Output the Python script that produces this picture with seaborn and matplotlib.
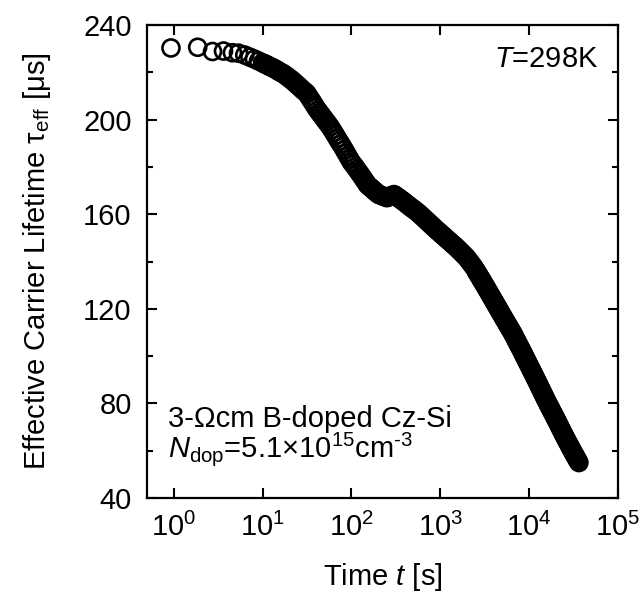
import numpy as np
import pandas as pd
import matplotlib
matplotlib.use("Agg")
import matplotlib.pyplot as plt
import matplotlib.ticker as mticker
import seaborn as sns

# ---- data ----
t_early = [0.93, 1.86, 2.73, 3.63, 4.57, 5.35, 6.3, 7.2, 8.1, 9.0]
tau_early = [230.3, 230.6, 228.8, 229.0, 228.3, 228.1, 227.3, 226.4, 225.6, 224.8]

t_dec1 = [10.0, 10.5, 11.0, 11.5, 12.0, 12.6, 13.2, 13.8, 14.5, 15.1, 15.8, 16.6, 17.4, 18.2, 19.1,
          20.0, 20.9, 21.9, 22.9, 24.0, 25.1, 26.3, 27.5, 28.8, 30.2, 31.6, 33.1, 34.7, 36.3, 38.0,
          39.8, 41.7, 43.7, 45.7, 47.9, 50.1, 52.5, 55.0, 57.5, 60.3, 63.1, 66.1, 69.2, 72.4, 75.9,
          79.4, 83.2, 87.1, 91.2, 95.5]
tau_dec1 = [224.0, 223.6, 223.3, 222.9, 222.5, 222.2, 221.8, 221.4, 221.0, 220.5, 220.1, 219.7, 219.2,
            218.7, 218.1, 217.5, 217.0, 216.4, 215.7, 215.0, 214.4, 213.7, 213.0, 212.3, 211.7, 211.0,
            209.8, 208.6, 207.5, 206.3, 205.1, 204.0, 203.0, 202.0, 201.0, 200.0, 199.0, 198.0, 197.0,
            195.8, 194.6, 193.4, 192.1, 190.9, 189.7, 188.5, 187.2, 185.9, 184.6, 183.3]

t_dec2 = [100, 105, 110, 115, 120, 126, 132, 138, 145, 151, 158, 166, 174, 182, 191, 200, 209, 219,
          229, 240, 251, 263, 275, 288, 302, 316, 331, 347, 363, 380, 398, 417, 437, 457, 479, 501,
          525, 550, 575, 603, 631, 661, 692, 724, 759, 794, 832, 871, 912, 955]
tau_dec2 = [182.0, 181.0, 180.0, 179.0, 178.0, 176.9, 175.8, 174.7, 173.6, 172.5, 171.8, 171.2, 170.5,
            169.8, 169.2, 168.5, 168.2, 167.9, 167.6, 167.3, 167.0, 167.3, 167.7, 168.0, 168.3, 167.8,
            167.2, 166.7, 166.1, 165.6, 165.0, 164.4, 163.8, 163.2, 162.6, 162.1, 161.5, 160.9, 160.3,
            159.6, 158.9, 158.2, 157.5, 156.8, 156.1, 155.4, 154.7, 154.0, 153.3, 152.7]

t_dec3a = [1000, 1047, 1096, 1148, 1202, 1259, 1318, 1380, 1445, 1514, 1585, 1660, 1738, 1820, 1905,
           1995, 2089, 2188, 2291, 2399, 2512]
tau_dec3a = [152.0, 151.3, 150.7, 150.0, 149.3, 148.7, 148.0, 147.3, 146.7, 146.0, 145.3, 144.5, 143.8,
             143.0, 142.3, 141.5, 140.5, 139.5, 138.5, 137.5, 136.3]

t_dec3b = [2570, 2630, 2692, 2754, 2818, 2884, 2951, 3020, 3090, 3162, 3236, 3311, 3388, 3467, 3548,
           3631, 3715, 3802, 3890, 3981, 4074, 4169, 4266, 4365, 4467, 4571, 4677, 4786, 4898, 5012,
           5129, 5248, 5370, 5495, 5623, 5754, 5888, 6026, 6166, 6310, 6457, 6607, 6761, 6918, 7079,
           7244, 7413, 7586, 7762, 7943, 8128, 8318, 8511, 8710, 8913, 9120, 9333, 9550, 9772]
tau_dec3b = [135.6, 135.0, 134.4, 133.8, 133.1, 132.5, 131.9, 131.3, 130.6, 130.0, 129.4, 128.7, 128.1,
             127.4, 126.8, 126.1, 125.5, 124.8, 124.2, 123.5, 122.9, 122.2, 121.6, 120.9, 120.3, 119.6,
             119.0, 118.3, 117.7, 117.0, 116.4, 115.7, 115.1, 114.5, 113.8, 113.2, 112.5, 111.9, 111.3,
             110.6, 110.0, 109.3, 108.6, 107.8, 107.1, 106.4, 105.7, 104.9, 104.2, 103.5, 102.8, 102.0,
             101.3, 100.5, 99.8, 99.0, 98.3, 97.5, 96.8]

t_dec4 = [10000, 10233, 10471, 10715, 10965, 11220, 11482, 11749, 12023, 12303, 12589, 12882, 13183,
          13490, 13804, 14125, 14454, 14791, 15136, 15488, 15849, 16218, 16596, 16982, 17378, 17783,
          18197, 18621, 19055, 19498, 19953, 20417, 20893, 21380, 21878, 22387, 22909, 23442, 23988,
          24547, 25119, 25704, 26303, 26915, 27542, 28184, 28840, 29512, 30200, 30903, 31623, 32359,
          33113, 33884, 34674, 35481, 36308]
tau_dec4 = [96.0, 95.3, 94.5, 93.8, 93.0, 92.3, 91.5, 90.8, 90.0, 89.3, 88.5, 87.7, 86.9, 86.2, 85.4,
            84.6, 83.8, 83.1, 82.3, 81.5, 80.8, 80.0, 79.3, 78.6, 77.9, 77.1, 76.4, 75.7, 75.0, 74.2,
            73.5, 72.8, 72.0, 71.3, 70.5, 69.8, 69.0, 68.3, 67.5, 66.8, 66.0, 65.3, 64.6, 63.9, 63.2,
            62.5, 61.8, 61.1, 60.4, 59.7, 59.0, 58.3, 57.7, 57.0, 56.3, 55.7, 55.0]

y_ticks = [40, 80, 120, 160, 200, 240]
x_ticks = [1e0, 1e1, 1e2, 1e3, 1e4, 1e5]

df = pd.DataFrame({
    "t": t_early + t_dec1 + t_dec2 + t_dec3a + t_dec3b + t_dec4,
    "tau": tau_early + tau_dec1 + tau_dec2 + tau_dec3a + tau_dec3b + tau_dec4,
})

# ---- style ----
sns.set_style("ticks", {"text.color": "black", "axes.labelcolor": "black",
                        "xtick.color": "black", "ytick.color": "black",
                        "axes.edgecolor": "black"})
plt.rcParams["font.family"] = ["Liberation Sans", "DejaVu Sans"]
plt.rcParams["mathtext.fontset"] = "custom"
plt.rcParams["mathtext.rm"] = "Liberation Sans"
plt.rcParams["mathtext.it"] = "Liberation Sans:italic"
plt.rcParams["mathtext.bf"] = "Liberation Sans:bold"
plt.rcParams["text.color"] = "black"

FS = 21

fig = plt.figure(figsize=(6.44, 5.96), dpi=100)
ax = fig.add_axes([0.2283, 0.1644, 0.7313, 0.7936])

sns.scatterplot(data=df, x="t", y="tau", ax=ax, marker="o", s=150, linewidth=1.9,
                legend=False)
for coll in ax.collections:
    coll.set_facecolor("none")
    coll.set_edgecolor("black")
    coll.set_linewidth(1.9)

ax.set_xscale("log")
ax.set_xlim(0.5, 1e5)
ax.set_ylim(40, 240)
ax.set_xticks(x_ticks)
ax.xaxis.set_major_formatter(mticker.LogFormatterSciNotation())
ax.xaxis.set_minor_locator(mticker.NullLocator())
ax.set_yticks(y_ticks)
ax.yaxis.set_minor_locator(mticker.MultipleLocator(20))

for sp in ax.spines.values():
    sp.set_linewidth(1.6)
    sp.set_color("black")

ax.tick_params(which="both", direction="in", top=True, right=True, width=1.5, colors="black",
               labelsize=FS)
ax.tick_params(which="major", length=7)
ax.tick_params(which="minor", length=4.5)
ax.tick_params(axis="x", which="major", pad=11)
ax.tick_params(axis="y", which="major", pad=11)

ax.set_xlabel("Time $t$ [s]", fontsize=FS, labelpad=13, color="black")
ax.set_ylabel("Effective Carrier Lifetime τ$_{\\rm eff}$ [μs]", fontsize=FS, labelpad=22,
              color="black")

ax.text(0.958, 0.958, "$T$=298K", transform=ax.transAxes, ha="right", va="top", fontsize=FS)
ax.text(0.045, 0.150, "3-Ωcm B-doped Cz-Si", transform=ax.transAxes, ha="left",
        va="baseline", fontsize=FS)
ax.text(0.045, 0.087, "$N_{\\rm dop}$=5.1×10$^{15}$cm$^{\\mathrm{‐}3}$", transform=ax.transAxes,
        ha="left", va="baseline", fontsize=FS)

fig.savefig("out.png", dpi=100)
